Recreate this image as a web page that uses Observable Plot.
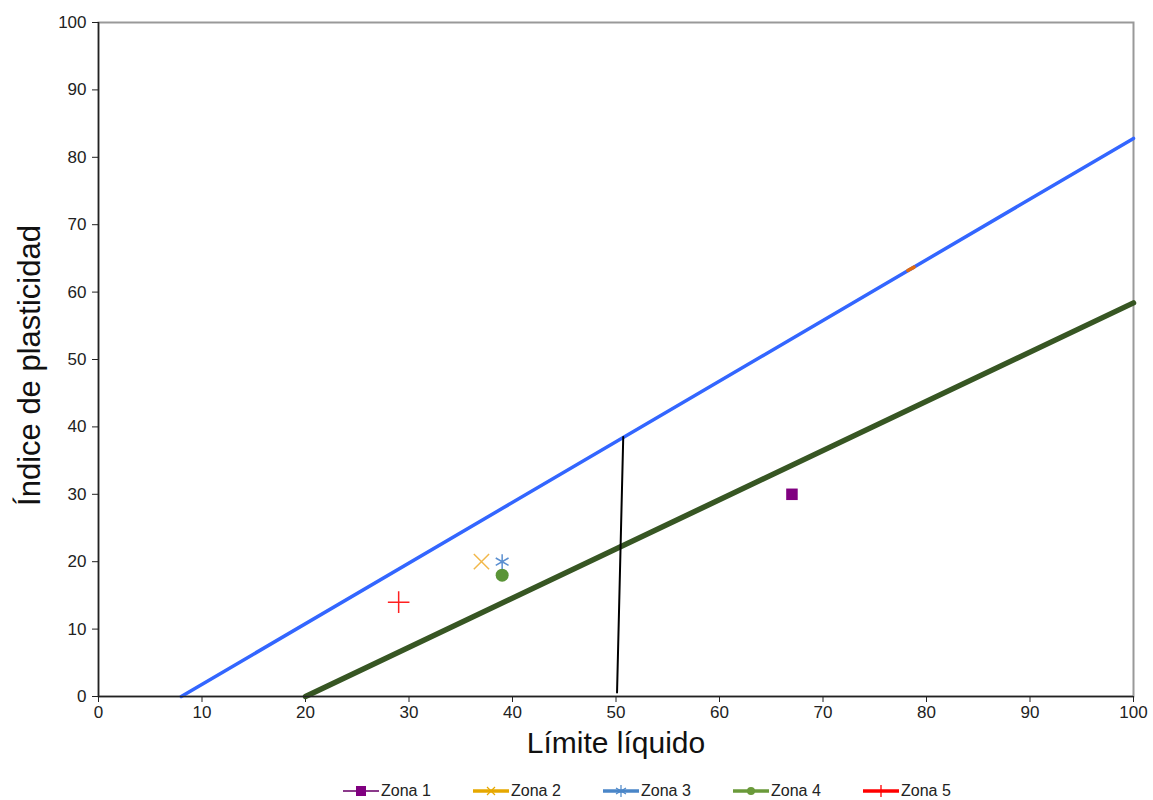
<!DOCTYPE html>
<html><head><meta charset="utf-8">
<script src="https://cdn.jsdelivr.net/npm/d3@7"></script>
<script src="https://cdn.jsdelivr.net/npm/@observablehq/plot@0.6"></script>
<style>
body{margin:0;background:#fff;font-family:"Liberation Sans",Arial,sans-serif;}
#legend{display:flex;justify-content:flex-start;padding-left:343px;font-size:16px;color:#222;margin-top:12px;}
.item{display:flex;align-items:center;gap:2px;width:130px;}
</style></head><body>
<div id="chart"></div>
<div id="legend"></div>
<script>
const zones = ["Zona 1","Zona 2","Zona 3","Zona 4","Zona 5"];
const ll = [67, 37, 39, 39, 29];
const pi = [30, 20, 20, 18, 14];
const symbols = ["square","times","asterisk","circle","plus"];
const markColors = ["#800080","#f2b84b","#5b8fd0","#5a9437","#ff2020"];
const legendColors = ["#8b3a8b","#e6a800","#4a86c8","#6a9a3a","#ff0000"];
const uLine = [[8,0],[100,82.8]];
const aLine = [[20,0],[100,58.4]];
const llLine = [[50.1,0.6],[50.7,38.5]];
const orangeSeg = [[78.2,63.2],[78.8,63.7]];
const ticks = d3.range(0,101,10);

const pts = zones.map((z,i)=>({zone:z, x:ll[i], y:pi[i], symbol:symbols[i], color:markColors[i]}));

const chart = Plot.plot({
  width:1153, height:770,
  marginLeft:98, marginRight:20, marginTop:22, marginBottom:74,
  style:{fontFamily:"Liberation Sans, Arial, sans-serif", color:"#222"},
  x:{domain:[0,100]}, y:{domain:[0,100]},
  marks:[
    Plot.frame({stroke:"#999", strokeWidth:2}),
    Plot.axisX({ticks, tickSize:6, tickFormat:()=>"", label:null}),
    Plot.axisY({ticks, tickSize:6, tickFormat:()=>"", label:null}),
    Plot.text(ticks, {x:d=>d, frameAnchor:"bottom", dy:21, fontSize:17, fill:"#222"}),
    Plot.text(ticks, {y:d=>d, frameAnchor:"left", dx:-12, textAnchor:"end", fontSize:17, fill:"#222"}),
    Plot.line(uLine, {x:d=>d[0], y:d=>d[1], stroke:"#3366ff", strokeWidth:3.5}),
    Plot.line(aLine, {x:d=>d[0], y:d=>d[1], stroke:"#375623", strokeWidth:5.5}),
    Plot.line(llLine, {x:d=>d[0], y:d=>d[1], stroke:"#000", strokeWidth:2}),
    Plot.line(orangeSeg, {x:d=>d[0], y:d=>d[1], stroke:"#e06a10", strokeWidth:3.5}),
    Plot.ruleX([0], {stroke:"#222", strokeWidth:1.5}),
    Plot.ruleY([0], {stroke:"#222", strokeWidth:1.5}),
    Plot.dot(pts.filter(d=>d.symbol==="square"), {x:"x", y:"y", symbol:"symbol", fill:"color", r:6.5}),
    Plot.dot(pts.filter(d=>d.symbol==="circle"), {x:"x", y:"y", symbol:"symbol", fill:"color", r:6.5}),
    Plot.dot(pts.filter(d=>d.symbol!=="square" && d.symbol!=="circle"), {x:"x", y:"y", symbol:"symbol", stroke:"color", r:7, strokeWidth:1.5}),
    Plot.text(["Índice de plasticidad"], {frameAnchor:"left", textAnchor:"middle", dx:-68, dy:6, rotate:-90, fontSize:31, fill:"#111"}),
    Plot.text(["Límite líquido"], {frameAnchor:"bottom", textAnchor:"middle", dy:56, fontSize:30, fill:"#111"})
  ]
});
document.getElementById("chart").append(chart);

const shapes = {
  square:(c)=>`<rect x="13" y="3" width="10" height="10" fill="${c}"/>`,
  times:(c)=>`<path d="M14,4 L22,12 M22,4 L14,12" stroke="${c}" stroke-width="1.2"/>`,
  asterisk:(c)=>`<path d="M18,2 V14 M13,5 L23,11 M23,5 L13,11" stroke="${c}" stroke-width="1.2"/>`,
  circle:(c)=>`<circle cx="18" cy="8" r="4" fill="${c}"/>`,
  plus:(c)=>`<path d="M18,2 V14 M12,8 H24" stroke="${c}" stroke-width="1.3"/>`
};
const leg = document.getElementById("legend");
zones.forEach((z,i)=>{
  const d = document.createElement("div"); d.className="item";
  const sw = i===0 ? 2 : 3.5;
  d.innerHTML = `<svg width="36" height="16"><line x1="0" y1="8" x2="36" y2="8" stroke="${legendColors[i]}" stroke-width="${sw}"/>${shapes[symbols[i]](i===0?"#800080":legendColors[i])}</svg><span>${z}</span>`;
  leg.append(d);
});
</script>
</body></html>
